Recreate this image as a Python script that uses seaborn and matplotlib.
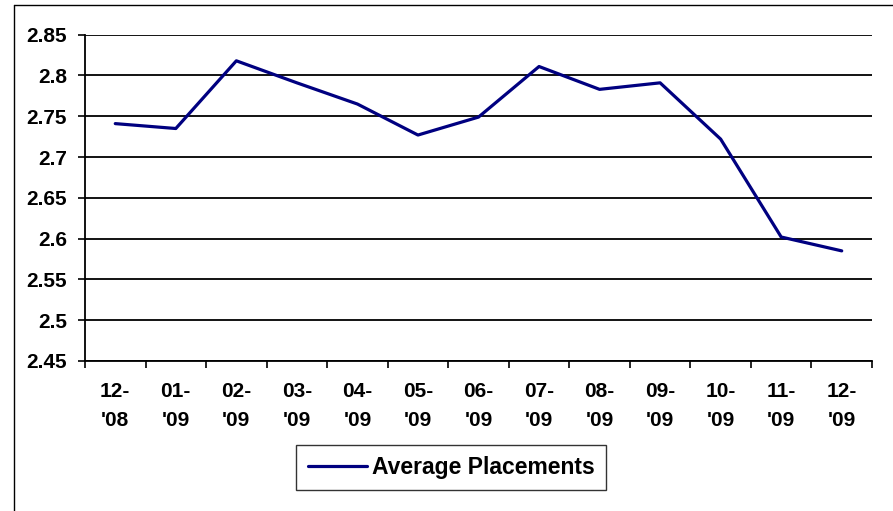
import matplotlib
matplotlib.use("Agg")
import matplotlib.pyplot as plt
from matplotlib.lines import Line2D
import seaborn as sns
import pandas as pd
import numpy as np

months = ["12-\n'08", "01-\n'09", "02-\n'09", "03-\n'09", "04-\n'09", "05-\n'09", "06-\n'09",
          "07-\n'09", "08-\n'09", "09-\n'09", "10-\n'09", "11-\n'09", "12-\n'09"]
placements = [2.741, 2.735, 2.818, 2.791, 2.765, 2.727, 2.749,
              2.811, 2.783, 2.791, 2.722, 2.602, 2.585]
y_ticks = [2.45, 2.5, 2.55, 2.6, 2.65, 2.7, 2.75, 2.8, 2.85]
y_labels = ["2.45", "2.5", "2.55", "2.6", "2.65", "2.7", "2.75", "2.8", "2.85"]

sns.set_style("white")
plt.rcParams['font.family'] = ['Liberation Sans', 'DejaVu Sans']
plt.rcParams['text.color'] = 'black'
plt.rcParams['xtick.color'] = 'black'
plt.rcParams['ytick.color'] = 'black'

df = pd.DataFrame({"idx": np.arange(len(months)), "value": placements})

fig = plt.figure(figsize=(8.93, 5.11), dpi=100)
ax = fig.add_axes([85 / 893, 1 - 361 / 511, (872 - 85) / 893, (361 - 34.7) / 511])

sns.lineplot(data=df, x="idx", y="value", ax=ax, color="#000080", linewidth=2.3,
             label="Average Placements")

ax.set_xlim(-0.5, len(months) - 0.5)
ax.set_ylim(2.45, 2.85)
ax.set_yticks(y_ticks)
ax.set_yticklabels(y_labels, fontsize=15, fontweight="bold")
ax.set_xticks(np.arange(len(months) + 1) - 0.5)
ax.set_xticklabels([])
ax.set_xticks(np.arange(len(months)), minor=True)
ax.set_xticklabels(months, minor=True, fontsize=15, fontweight="bold", linespacing=1.65)
ax.tick_params(axis="x", which="minor", bottom=True, length=0, pad=15)
ax.tick_params(axis="x", which="major", bottom=True, length=5, width=1.2, color="black",
               direction="out")
ax.tick_params(axis="y", left=True, length=5, width=1.2, color="black", direction="out", pad=8)
ax.set_xlabel("")
ax.set_ylabel("")

for v in y_ticks:
    ax.axhline(v, color="black", linewidth=1.3, zorder=0)

for side in ["top", "right"]:
    ax.spines[side].set_visible(False)
for side in ["left", "bottom"]:
    ax.spines[side].set_color("black")
    ax.spines[side].set_linewidth(1.3)

leg = ax.legend(loc="center", bbox_to_anchor=(451 / 893, 1 - 467.5 / 511),
                bbox_transform=fig.transFigure, frameon=True, fancybox=False,
                prop={"size": 16.5, "weight": "bold"}, handlelength=2.6,
                borderpad=0.5, handletextpad=0.2, borderaxespad=0)
leg.get_frame().set_edgecolor("black")
leg.get_frame().set_linewidth(1.0)

# outer chart border
fig.add_artist(Line2D([14 / 893, 1], [1 - 5 / 511, 1 - 5 / 511], color="black", linewidth=1,
                      transform=fig.transFigure))
fig.add_artist(Line2D([14 / 893, 14 / 893], [0, 1 - 5 / 511], color="black", linewidth=1,
                      transform=fig.transFigure))

fig.savefig("out.png", dpi=100)
